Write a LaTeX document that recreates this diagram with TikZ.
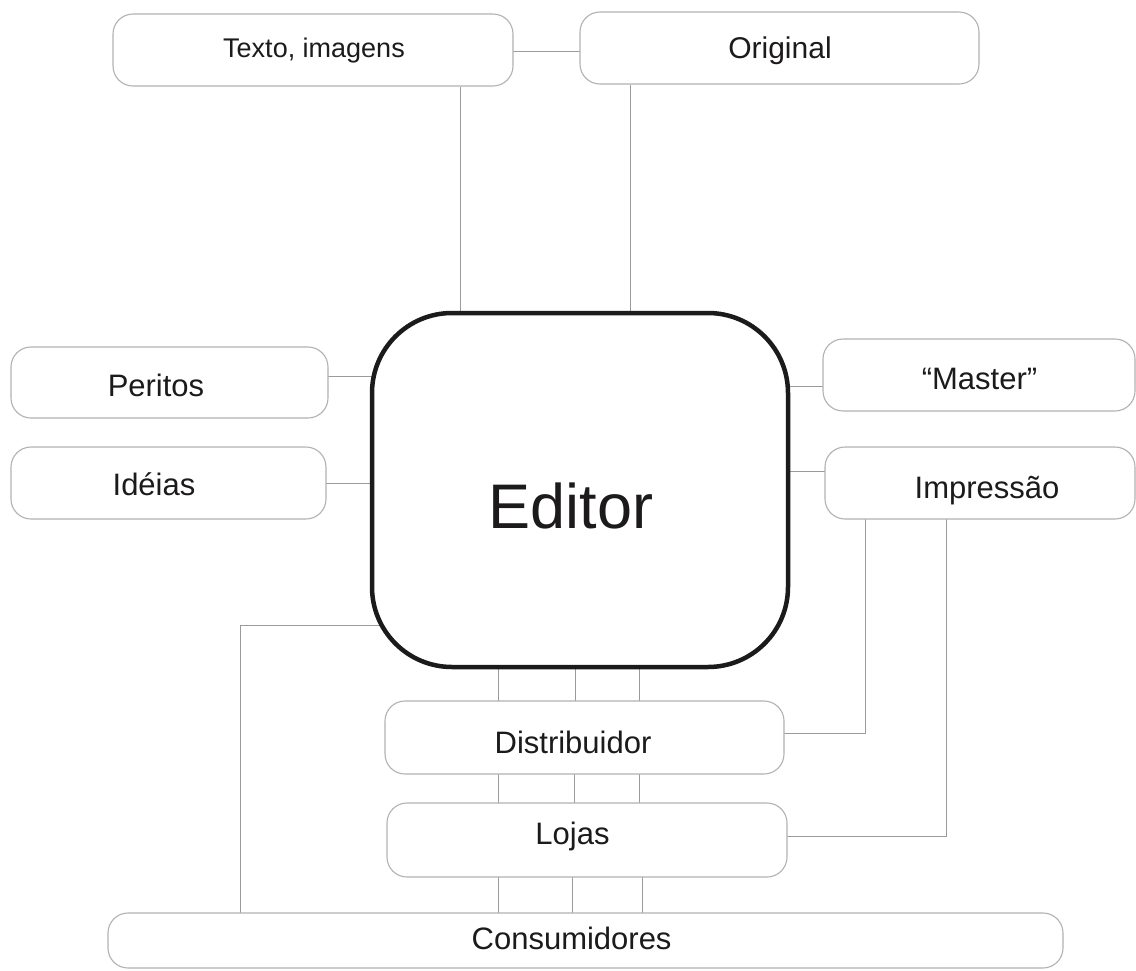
\documentclass[tikz,border=0pt]{standalone}
\usepackage{fontspec}
\setmainfont{Liberation Sans}
\usetikzlibrary{backgrounds}
\definecolor{boxgray}{RGB}{178,178,178}
\definecolor{linegray}{RGB}{155,155,155}
\definecolor{ink}{RGB}{28,26,26}
\begin{document}
\begin{tikzpicture}[x=1pt,y=-1pt,
  box/.style={draw=boxgray, line width=1.1pt, rounded corners=20pt, fill=white, inner sep=0pt},
  lbl/.style={text=ink, inner sep=0pt, text height=22.2pt, text depth=0pt, font=\fontsize{31}{31}\selectfont},
  smalllbl/.style={lbl, text height=19.3pt, font=\fontsize{27}{27}\selectfont},
  midlbl/.style={lbl, text height=21.5pt, font=\fontsize{30}{30}\selectfont},
  biglbl/.style={lbl, text height=45.1pt, font=\fontsize{63}{63}\selectfont},
  conn/.style={draw=linegray, line width=1pt}]
\useasboundingbox (0,0) rectangle (1136,970);

% boxes
\node[box, minimum width=400pt, minimum height=72pt] (texto) at (313,50) {};
\node[box, minimum width=399pt, minimum height=72pt] (original) at (779.5,48) {};
\node[box, minimum width=317pt, minimum height=71pt] (peritos) at (169.5,382.5) {};
\node[box, minimum width=315pt, minimum height=72pt] (ideias) at (168.5,483) {};
\node[box, minimum width=312pt, minimum height=72pt] (master) at (979,375) {};
\node[box, minimum width=310pt, minimum height=72pt] (impressao) at (980,483) {};
\node[draw=ink, line width=4.5pt, rounded corners=80pt, fill=white, inner sep=0pt,
      minimum width=416pt, minimum height=354pt] (editor) at (580,490) {};
\node[box, minimum width=399pt, minimum height=73pt] (distribuidor) at (584.5,737.5) {};
\node[box, minimum width=400pt, minimum height=74pt] (lojas) at (587,840) {};
\node[box, minimum width=955pt, minimum height=55pt] (consumidores) at (585.5,940.5) {};

% labels
\node[smalllbl] (textoT) at (314,48.3) {Texto, imagens};
\node[midlbl] (originalT) at (780,47.5) {Original};
\node[lbl] (peritosT) at (156,385) {Peritos};
\node[lbl] (ideiasT) at (154,484) {Idéias};
\node[lbl] (masterT) at (979.5,378) {“Master”};
\node[lbl] (impressaoT) at (987,487) {Impressão};
\node[biglbl] (editorT) at (571,506) {Editor};
\node[lbl] (distribuidorT) at (573,742) {Distribuidor};
\node[lbl] (lojasT) at (572.5,833) {Lojas};
\node[lbl] (consumidoresT) at (571.6,938) {Consumidores};

% helper coordinates
\coordinate (tx) at (460,0);
\coordinate (ox) at (630,0);
\coordinate (py) at (0,376);
\coordinate (iy) at (0,483);
\coordinate (my) at (0,386);
\coordinate (impy) at (0,471);
\coordinate (ly) at (0,625);
\coordinate (dy) at (0,733);
\coordinate (loy) at (0,836);
\coordinate (lx) at (240,0);
\coordinate (ix1) at (865,0);
\coordinate (ix2) at (946,0);
\coordinate (ty) at (0,51);

\begin{scope}[on background layer]
  \draw[conn] (texto.center |- ty) -- (original.center |- ty);
  \draw[conn] (tx |- texto.south) -- (tx |- editor.center);
  \draw[conn] (ox |- original.south) -- (ox |- editor.center);
  \draw[conn] (peritos.center |- py) -- (editor.center |- py);
  \draw[conn] (ideias.center |- iy) -- (editor.center |- iy);
  \draw[conn] (master.center |- my) -- (editor.center |- my);
  \draw[conn] (impressao.center |- impy) -- (editor.center |- impy);
  \draw[conn] (ix1 |- impressao.center) |- (distribuidor.center |- dy);
  \draw[conn] (ix2 |- impressao.center) |- (lojas.center |- loy);
  \draw[conn] (lx |- consumidores.center) |- (editor.center |- ly);
  \foreach \xx in {498,575,639} {
    \coordinate (va) at (\xx,0);
    \draw[conn] (va |- editor.center) -- (va |- distribuidor.center);
  }
  \foreach \xx in {498,574,639} {
    \coordinate (vb) at (\xx,0);
    \draw[conn] (vb |- distribuidor.center) -- (vb |- lojas.center);
  }
  \foreach \xx in {498,572,642} {
    \coordinate (vc) at (\xx,0);
    \draw[conn] (vc |- lojas.center) -- (vc |- consumidores.center);
  }
\end{scope}
\end{tikzpicture}
\end{document}
